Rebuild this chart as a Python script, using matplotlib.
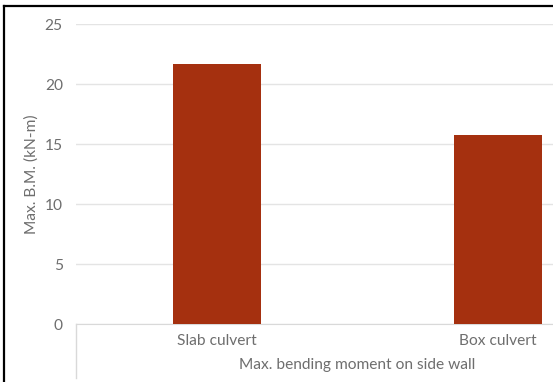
import matplotlib.pyplot as plt
from matplotlib.lines import Line2D

# Max. bending moment on side wall (kN-m)
categories = ["Slab culvert", "Box culvert"]
bm_values = [21.65, 15.75]
y_ticks = [0, 5, 10, 15, 20, 25]

text_color = "#6E6E6E"
bar_color = "#A5300F"

plt.rcParams['font.family'] = ['Lato', 'DejaVu Sans']

W, H = 553, 382
fig = plt.figure(figsize=(W / 100, H / 100), dpi=100)

# plot area runs past the right edge (reference is cropped)
left, right, bottom, top = 76, 638, 324, 24
ax = fig.add_axes([left / W, 1 - bottom / H, (right - left) / W, (bottom - top) / H])

x = list(range(len(categories)))
ax.bar(x, bm_values, width=88 / 281, color=bar_color, zorder=3)

ax.set_xlim(-0.5, len(categories) - 0.5)
ax.set_ylim(0, 25)
ax.set_yticks(y_ticks)
ax.set_xticks(x)
ax.set_xticklabels(categories)
ax.grid(axis='y', color='#E4E4E4', linewidth=1, zorder=0)

for s in ["top", "right", "left"]:
    ax.spines[s].set_visible(False)
ax.spines["bottom"].set_color('#D9D9D9')
ax.tick_params(axis='both', length=0, colors=text_color, labelsize=11.2)
ax.tick_params(axis='x', pad=7.5)
ax.tick_params(axis='y', pad=9.5)

ax.set_ylabel("Max. B.M. (kN-m)", color=text_color, fontsize=11.2, labelpad=4)
ax.set_xlabel("Max. bending moment on side wall", color=text_color, fontsize=11.2, labelpad=7)

# category separator below the axis
fig.add_artist(Line2D([left / W, left / W], [1 - bottom / H, 1 - 378 / H],
                      color='#D9D9D9', linewidth=1))

# outer frame (top and left visible)
fig.add_artist(Line2D([4 / W, 1.0], [1 - 6 / H, 1 - 6 / H], color='black', linewidth=1.6))
fig.add_artist(Line2D([4 / W, 4 / W], [0, 1 - 6 / H], color='black', linewidth=1.6))

fig.savefig("out.png", dpi=100)
